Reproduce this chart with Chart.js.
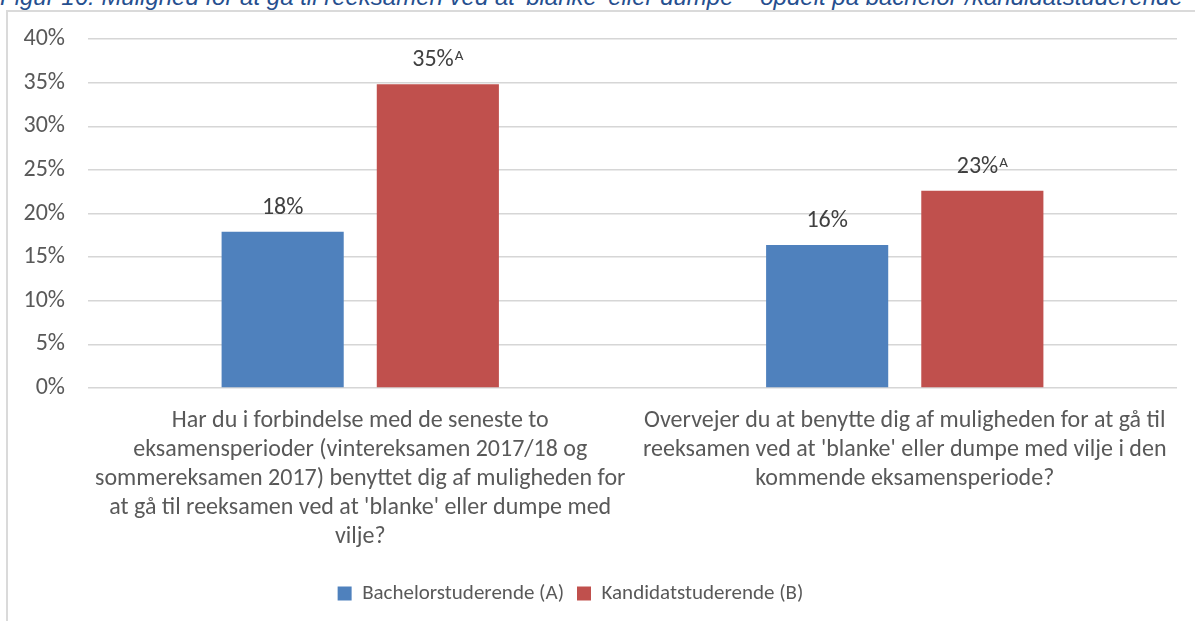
<!DOCTYPE html>
<html>
<head>
<meta charset="utf-8">
<script src="https://cdn.jsdelivr.net/npm/chart.js@4"></script>
<style>
  html, body { margin: 0; padding: 0; background: #fff; }
  body { width: 1195px; height: 621px; position: relative; overflow: hidden; }
  #title {
    position: absolute; left: 0; top: -17px; line-height: 24px; white-space: nowrap;
    font: italic 24px "Liberation Sans", Arial, sans-serif; color: #264f8f;
  }
  #frame {
    position: absolute; left: 6px; top: 10px; width: 1200px; height: 700px;
    border-left: 2px solid #dadada; border-top: 2px solid #dadada;
  }
  #wrap { position: absolute; left: 0; top: 0; width: 1195px; height: 621px; }
</style>
</head>
<body>
<div id="title">Figur 16: Mulighed for at gå til reeksamen ved at 'blanke' eller dumpe – opdelt på bachelor-/kandidatstuderende</div>
<div id="frame"></div>
<div id="wrap"><canvas id="chart" width="1195" height="621"></canvas></div>
<script>
// Categories (question texts, split into the lines shown under the axis)
const categories = [
  ["Har du i forbindelse med de seneste to", "eksamensperioder (vintereksamen 2017/18 og", "sommereksamen 2017) benyttet dig af muligheden for", "at gå til reeksamen ved at 'blanke' eller dumpe med", "vilje?"],
  ["Overvejer du at benytte dig af muligheden for at gå til", "reeksamen ved at 'blanke' eller dumpe med vilje i den", "kommende eksamensperiode?"]
];

// Series (percent)
const bachelor = [17.9, 16.4];
const kandidat = [34.8, 22.6];
const bachelorLabels = ["18%", "16%"];
const kandidatLabels = ["35%", "23%"];
const kandidatSup = ["A", "A"];

const yTicks = [0, 5, 10, 15, 20, 25, 30, 35, 40];

const FONT = 'Carlito, Calibri, "Open Sans", sans-serif';

// value labels above the bars, with superscript letter
const valueLabels = {
  id: 'valueLabels',
  afterDatasetsDraw(chart) {
    const ctx = chart.ctx;
    ctx.save();
    ctx.fillStyle = '#404040';
    ctx.textBaseline = 'alphabetic';
    ctx.textAlign = 'left';
    chart.data.datasets.forEach((ds, di) => {
      chart.getDatasetMeta(di).data.forEach((bar, i) => {
        const main = ds.valueText[i];
        const sup = ds.supText ? ds.supText[i] : '';
        ctx.font = '24px ' + FONT;
        const w1 = ctx.measureText(main).width;
        ctx.font = '15px ' + FONT;
        const w2 = sup ? ctx.measureText(sup).width + 1 : 0;
        const x0 = bar.x - (w1 + w2) / 2;
        const y = bar.y - 18;
        ctx.font = '24px ' + FONT;
        ctx.fillText(main, x0, y);
        if (sup) {
          ctx.font = '15px ' + FONT;
          ctx.fillText(sup, x0 + w1 + 1, y - 6);
        }
      });
    });
    ctx.restore();
  }
};

// the legend sits a bit left of the canvas centre in the original
const legendShift = {
  id: 'legendShift',
  afterLayout(chart) {
    chart.legend.left -= 18;
    chart.legend.right -= 18;
  }
};

new Chart(document.getElementById('chart'), {
  type: 'bar',
  data: {
    labels: categories,
    datasets: [
      { label: 'Bachelorstuderende (A)', data: bachelor, backgroundColor: '#4F81BD', valueText: bachelorLabels },
      { label: 'Kandidatstuderende (B)', data: kandidat, backgroundColor: '#C0504D', valueText: kandidatLabels, supText: kandidatSup }
    ]
  },
  options: {
    responsive: false,
    animation: false,
    layout: { padding: { left: 0, right: 18, top: 39, bottom: 7 } },
    datasets: { bar: { categoryPercentage: 0.57, barPercentage: 0.787 } },
    scales: {
      x: {
        grid: { display: false, drawTicks: false },
        border: { display: false },
        ticks: {
          color: '#595959', font: { family: FONT, size: 24 }, maxRotation: 0, autoSkip: false,
          padding: 19
        }
      },
      y: {
        min: 0, max: 40,
        afterFit(scale) { scale.width = 88; },
        afterBuildTicks(scale) { scale.ticks = yTicks.map(v => ({ value: v })); },
        grid: { color: '#d6d6d6', lineWidth: 1.5, drawTicks: false },
        border: { display: false },
        ticks: {
          color: '#595959', font: { family: FONT, size: 24 }, padding: 23,
          callback: v => v + '%'
        }
      }
    },
    plugins: {
      legend: {
        position: 'bottom',
        labels: {
          color: '#595959', font: { family: FONT, size: 21 },
          boxWidth: 14, boxHeight: 14, padding: 13
        }
      },
      tooltip: { enabled: false }
    }
  },
  plugins: [valueLabels, legendShift]
});
</script>
</body>
</html>
